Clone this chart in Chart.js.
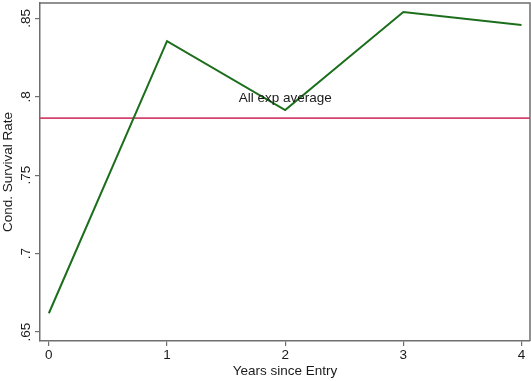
<!DOCTYPE html>
<html>
<head>
<meta charset="utf-8">
<script src="https://cdn.jsdelivr.net/npm/chart.js@4"></script>
<style>
  html, body { margin: 0; padding: 0; background: #fff; }
  #wrap { width: 531px; height: 381px; position: relative; }
</style>
</head>
<body>
<div id="wrap"><canvas id="c" width="531" height="381"></canvas></div>
<script>
// Years since entry and conditional survival rate by year
const years = [0, 1, 2, 3, 4];
const survival = [0.662, 0.8355, 0.7915, 0.854, 0.8457];
// Average over all experience levels
const allExpAverage = 0.7864;
const avgLabel = 'All exp average';
const xTicks = [0, 1, 2, 3, 4];
const yTicks = [0.65, 0.7, 0.75, 0.8, 0.85];
const yTickLabels = ['.65', '.7', '.75', '.8', '.85'];

const FONT = '"Liberation Sans", Arial, Helvetica, sans-serif';
const FONT_SIZE = 13.5;
const TEXT = '#1a1a1a';
const AXIS_GREY = '#6e6e6e';

const points = years.map((x, i) => ({ x: x, y: survival[i] }));
const avgPoints = [{ x: -0.075, y: allExpAverage }, { x: 4.072, y: allExpAverage }];

// Frame, rotated y labels, axis titles and the text annotation
const decorations = {
  id: 'decorations',
  afterDraw(chart) {
    const ctx = chart.ctx;
    const a = chart.chartArea;
    const xs = chart.scales.x, ys = chart.scales.y;
    ctx.save();
    // top and right frame
    ctx.strokeStyle = AXIS_GREY;
    ctx.lineWidth = 1.5;
    ctx.beginPath();
    ctx.moveTo(a.left, a.top);
    ctx.lineTo(a.right, a.top);
    ctx.lineTo(a.right, a.bottom);
    ctx.stroke();
    // vertical y tick labels
    ctx.fillStyle = TEXT;
    ctx.font = FONT_SIZE + 'px ' + FONT;
    ctx.textAlign = 'center';
    ctx.textBaseline = 'middle';
    yTicks.forEach((v, i) => {
      const py = ys.getPixelForValue(v);
      ctx.save();
      ctx.translate(26, py);
      ctx.rotate(-Math.PI / 2);
      ctx.fillText(yTickLabels[i], 0, 0);
      ctx.restore();
    });
    // y title
    ctx.save();
    ctx.translate(8, (a.top + a.bottom) / 2);
    ctx.rotate(-Math.PI / 2);
    ctx.fillText('Cond. Survival Rate', 0, 0);
    ctx.restore();
    // x title
    ctx.fillText('Years since Entry', (a.left + a.right) / 2, 371);
    // annotation
    ctx.fillText(avgLabel, xs.getPixelForValue(2), ys.getPixelForValue(0.8) + 1);
    ctx.restore();
  }
};

new Chart(document.getElementById('c'), {
  type: 'line',
  data: {
    datasets: [
      {
        data: points,
        borderColor: '#1c6e1c',
        borderWidth: 2,
        pointRadius: 0,
        tension: 0,
        fill: false
      },
      {
        data: avgPoints,
        borderColor: '#d2436c',
        borderWidth: 1.6,
        pointRadius: 0,
        tension: 0,
        fill: false
      }
    ]
  },
  options: {
    responsive: false,
    animation: false,
    devicePixelRatio: 1,
    layout: { padding: { top: 3, right: 1, left: 0, bottom: 0 } },
    plugins: { legend: { display: false }, tooltip: { enabled: false } },
    scales: {
      x: {
        type: 'linear',
        min: -0.075,
        max: 4.072,
        afterBuildTicks(s) { s.ticks = xTicks.map(v => ({ value: v })); },
        afterFit(s) { s.height = 40; },
        grid: { drawOnChartArea: false, drawTicks: true, tickLength: 5, color: AXIS_GREY, lineWidth: 1.2 },
        border: { display: true, color: AXIS_GREY, width: 1.5 },
        ticks: { color: TEXT, font: { size: FONT_SIZE, family: FONT }, padding: 1, maxRotation: 0, callback: v => String(v) }
      },
      y: {
        type: 'linear',
        min: 0.6443,
        max: 0.8598,
        afterBuildTicks(s) { s.ticks = yTicks.map(v => ({ value: v })); },
        afterFit(s) { s.width = 40; },
        grid: { drawOnChartArea: false, drawTicks: true, tickLength: 5, color: AXIS_GREY, lineWidth: 1.2 },
        border: { display: true, color: AXIS_GREY, width: 1.5 },
        ticks: { display: false }
      }
    }
  },
  plugins: [decorations]
});
</script>
</body>
</html>
